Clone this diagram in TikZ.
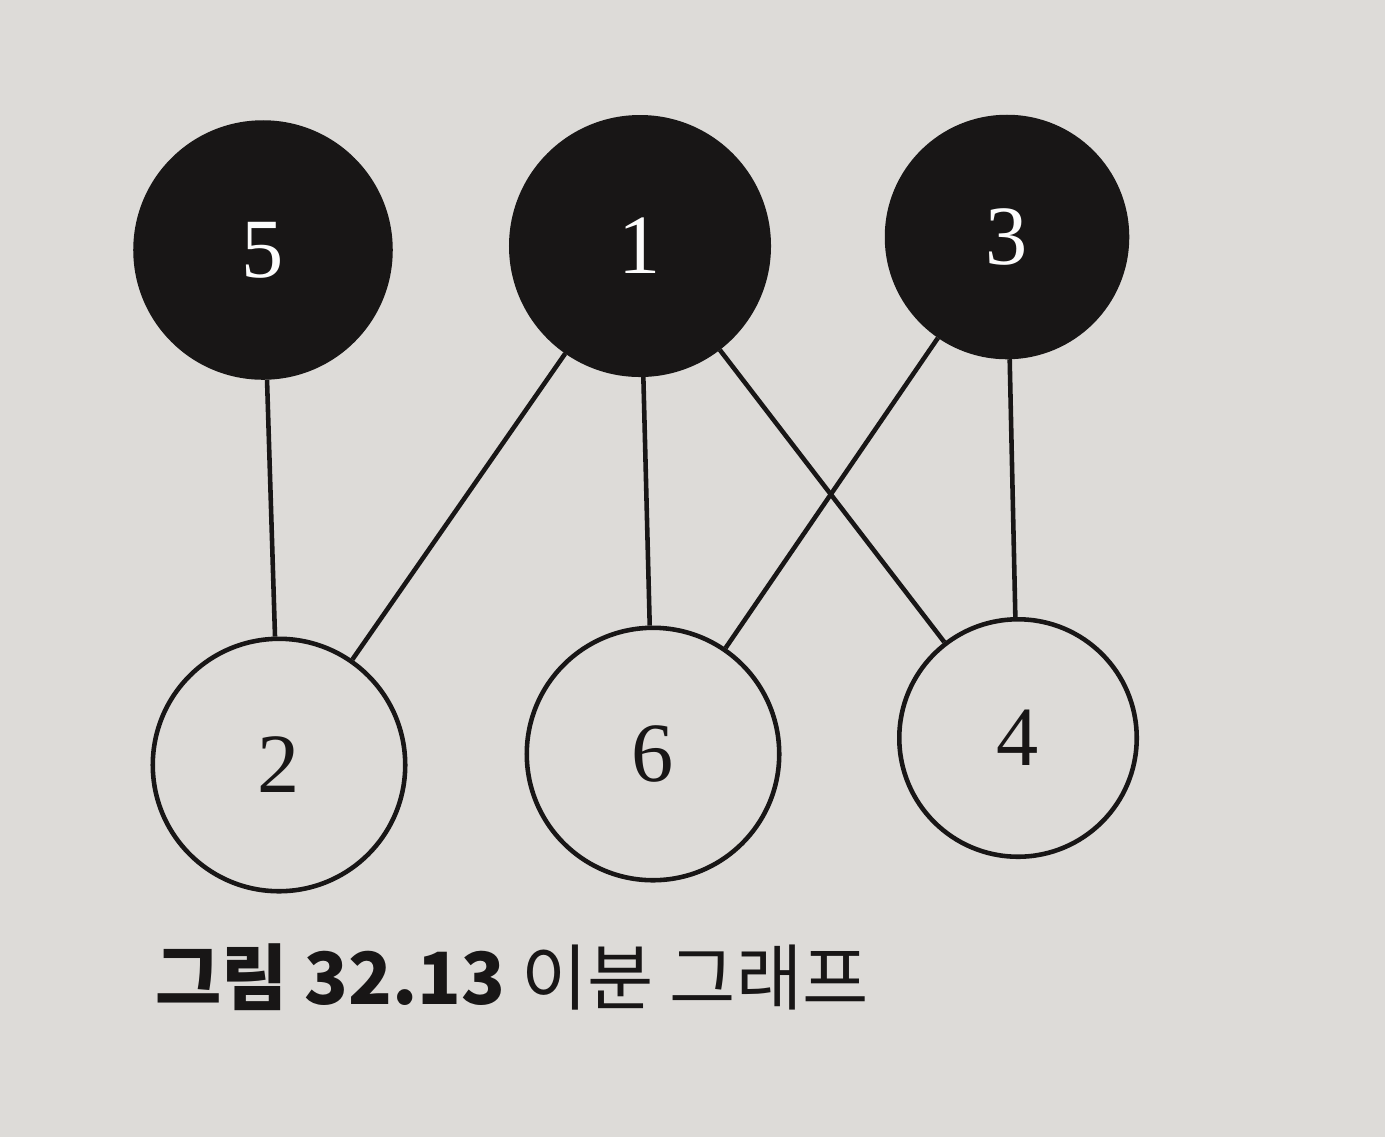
\documentclass[tikz,border=0pt]{standalone}
\usepackage{fontspec}
\setmainfont{Liberation Serif}
\newfontfamily\krfont{Noto Sans CJK KR}
\definecolor{paper}{RGB}{221,219,216}
\definecolor{ink}{RGB}{24,22,22}
\begin{document}
\begin{tikzpicture}[x=0.02cm,y=-0.02cm,
  vtx/.style={circle,draw=ink,line width=2.6pt,inner sep=0pt,font=\fontsize{48}{48}\selectfont},
  dark/.style={vtx,fill=ink,text=white!92!paper},
  light/.style={vtx,fill=paper,text=ink},
  edge/.style={draw=ink,line width=2.6pt}]
\fill[paper] (0,0) rectangle (1385,1137);
\useasboundingbox (0,0) rectangle (1385,1137);
\node[dark,minimum size=5.1cm] (n5) at (263,250) {5};
\node[dark,minimum size=5.15cm] (n1) at (640,246) {1};
\node[dark,minimum size=4.8cm] (n3) at (1007,237) {3};
\node[light,minimum size=5.05cm] (n2) at (279,765) {2};
\node[light,minimum size=5.05cm] (n6) at (653,754) {6};
\node[light,minimum size=4.75cm] (n4) at (1018,738) {4};
\draw[edge] (n5) -- (n2);
\draw[edge] (n1) -- (n2);
\draw[edge] (n1) -- (n6);
\draw[edge] (n1) -- (n4);
\draw[edge] (n3) -- (n6);
\draw[edge] (n3) -- (n4);
\node[anchor=west,inner sep=0pt,text=ink,font=\fontsize{41}{41}\selectfont\krfont] (cap) at (155,977) {\textbf{그림 32.13} 이분 그래프};
\end{tikzpicture}
\end{document}
